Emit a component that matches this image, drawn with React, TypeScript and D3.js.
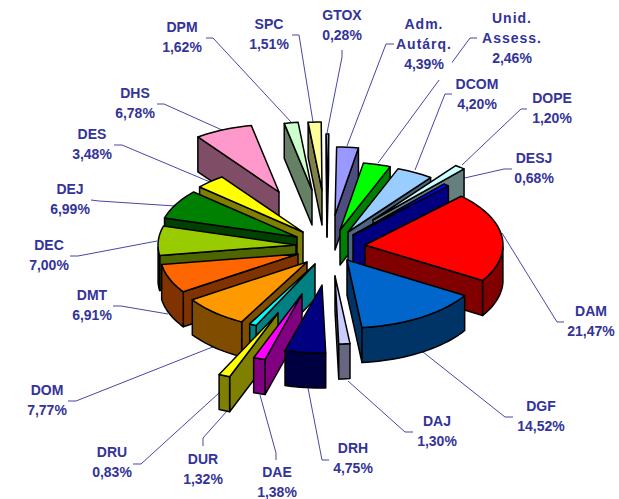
import React from "react";
import * as d3 from "d3";

// ---- data (clockwise, starting from the red slice) ----
const categories = ["DAM","DGF","DAJ","DRH","DAE","DUR","DRU","DOM","DMT","DEC","DEJ","DES","DHS","DPM","SPC","GTOX","Adm. Autárq.","Unid. Assess.","DCOM","DOPE","DESJ"];
const labelledPercent = ["21,47%","14,52%","1,30%","4,75%","1,38%","1,32%","0,83%","7,77%","6,91%","7,00%","6,99%","3,48%","6,78%","1,62%","1,51%","0,28%","4,39%","2,46%","4,20%","1,20%","0,68%"];
// slice sizes (two slices are drawn at other sizes than their labels)
const sliceShare = [21.47,14.52,1.3,4.75,1.38,1.32,0.83,7.77,6.91,7.0,6.99,3.48,6.78,1.62,1.51,0.28,2.53,3.2,4.3,1.25,0.68];
const topColors = ["#FF0000","#0066CC","#CCCCFF","#000080","#FF00FF","#FFFF00","#00FFFF","#FF9900","#FF6600","#99CC00","#008000","#FFFF00","#FF99CC","#CCFFCC","#FFFF99","#99CCFF","#9999FF","#00FF00","#99CCFF","#CCFFFF","#0000FF"];

// ---- layout ----
const W = 619, H = 499;
const CX = 326, CY = 247, RX = 138, RY = 68, DEPTH = 35;
const START = (44.2 * Math.PI) / 180;
const INK = "#333399";
// how far each slice is pulled out of the pie
const explodeX = [39,21,9,-4,-24,-48,-11,-19,-28,-30,-29,-23,-47,-14,-4,1,9,14,22,47,27];
const explodeY = [-2,13,29,38,47,66,17,15,7,-2,-10,-15,-55,-57,-57,-45,-32,-17,-15,-27,-12];
const labelX = [591,541,437,353,277,203,112,47,92,49,70,92,135,182,269,342,424,512,477,552,534];
const labelY = [316,411,426,453,477,464,457,395,300,250,194,139,98,32,29,20,29,23,89,103,163];
const leaders: [number, number][][] = [
  [[564,322],[557,322],[502,233]],
  [[513,417],[505,417],[423,352]],
  [[413,432],[405,432],[348,381]],
  [[329,460],[322,460],[308,388]],
  [[276,460],[276,453],[260,395]],
  [[203,446],[203,438],[227,411]],
  [[133,464],[141,464],[219,393]],
  [[68,401],[76,401],[215,346]],
  [[113,306],[121,306],[168,314]],
  [[70,256],[78,256],[157,241]],
  [[91,200],[99,201],[175,206]],
  [[114,145],[122,145],[210,182]],
  [[157,104],[164,104],[222,130]],
  [[206,38],[213,38],[291,122]],
  [[292,35],[299,35],[313,122]],
  [[342,50],[342,57],[327,133]],
  [[394,44],[386,44],[347,146]],
  [[477,38],[470,38],[378,163]],
  [[452,94],[445,94],[415,170]],
  [[527,109],[521,109],[462,165]],
  [[512,169],[504,169],[447,182]],
];

const line = d3.line<[number, number]>();
const shareTotal = d3.sum(sliceShare);
const arcs = d3
  .pie<number>()
  .sort(null)
  .startAngle(START)
  .endAngle(START + (2 * Math.PI * shareTotal) / 100)(sliceShare);

const dim = (c: string) => {
  const r = d3.rgb(c);
  return d3.rgb(r.r / 2, r.g / 2, r.b / 2).formatHex();
};

type P = [number, number];

function buildSlice(i: number) {
  const a = arcs[i];
  const mid = (a.startAngle + a.endAngle) / 2;
  const apex: P = [CX + explodeX[i], CY + explodeY[i]];
  const onRim = (t: number): P => [apex[0] + RX * Math.sin(t), apex[1] - RY * Math.cos(t)];
  const n = Math.max(2, Math.ceil((a.endAngle - a.startAngle) / 0.04));
  const thetas = d3.range(n + 1).map((k) => a.startAngle + ((a.endAngle - a.startAngle) * k) / n);
  const rim = thetas.map(onRim);
  const drop = (p: P): P => [p[0], p[1] + DEPTH];
  const first = rim[0], last = rim[rim.length - 1];

  const walls: P[][] = [];
  // only faces whose lower edge runs leftwards on screen look at the viewer
  if (first[0] < apex[0]) walls.push([apex, first, drop(first), drop(apex)]);
  if (apex[0] < last[0]) walls.push([last, apex, drop(apex), drop(last)]);
  const front = thetas.filter((t) => {
    const m = ((t % (2 * Math.PI)) + 2 * Math.PI) % (2 * Math.PI);
    return m >= Math.PI / 2 && m <= (3 * Math.PI) / 2;
  });
  if (front.length > 1) {
    const pts = front.map(onRim);
    walls.push([...pts, ...pts.map(drop).reverse()]);
  }
  return { i, mid, top: [apex, ...rim] as P[], walls };
}

const slices = categories
  .map((_, i) => buildSlice(i))
  .sort((p, q) => Math.cos(q.mid) - Math.cos(p.mid));

function labelLines(i: number): string[] {
  const parts = categories[i].split(" ");
  return [...parts, labelledPercent[i]];
}

export default function App() {
  return (
    <svg
      width={W}
      height={H}
      viewBox={`0 0 ${W} ${H}`}
      style={{ position: "absolute", left: 0, top: 0, background: "#fff" }}
    >
      {leaders.map((pts, i) => (
        <path key={i} d={line(pts) ?? ""} fill="none" stroke={INK} strokeWidth={1} opacity={0.9} />
      ))}
      {categories.map((_, i) => {
        const lines = labelLines(i);
        const spaced = lines.length === 3;
        const step = 20;
        return (
          <g key={i} fontFamily="Liberation Sans, Arial, sans-serif" fontWeight="bold" fontSize={14} fill={INK} textAnchor="middle">
            {spaced && (
              <rect x={labelX[i] - 28} y={labelY[i] - 13} width={56} height={lines.length * step + 4} fill="#fff" />
            )}
            {lines.map((t, k) => (
              <text
                key={k}
                x={labelX[i]}
                y={labelY[i] + k * step}
                letterSpacing={spaced && k < 2 ? 1 : 0}
              >
                {t}
              </text>
            ))}
          </g>
        );
      })}
      {slices.map((s) => (
        <g key={s.i} stroke="#000" strokeWidth={1.5} strokeLinejoin="round">
          {s.walls.map((w, k) => (
            <path key={k} d={(line(w) ?? "") + "Z"} fill={dim(topColors[s.i])} />
          ))}
          <path d={(line(s.top) ?? "") + "Z"} fill={topColors[s.i]} />
        </g>
      ))}
    </svg>
  );
}
